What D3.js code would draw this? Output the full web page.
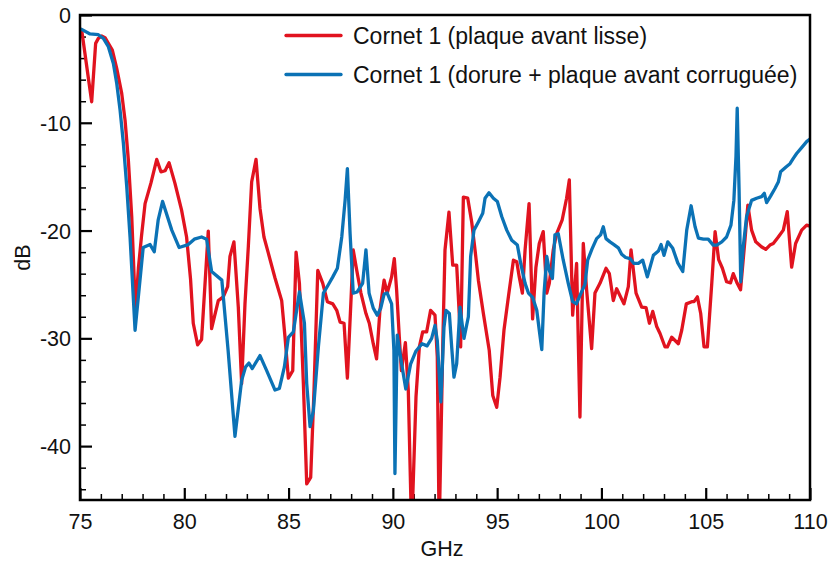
<!DOCTYPE html>
<html>
<head>
<meta charset="utf-8">
<script src="https://cdn.jsdelivr.net/npm/d3@7"></script>
<style>
  body { margin: 0; background: #fff; }
  svg { display: block; }
  text { font-family: "Liberation Sans", Arial, Helvetica, sans-serif; fill: #111; }
</style>
</head>
<body>
<svg id="chart" width="833" height="562"></svg>
<script>
// ---- Data ----
const seriesNames = ["Cornet 1 (plaque avant lisse)", "Cornet 1 (dorure + plaque avant corruguée)"];
const seriesColors = ["#e1131f", "#0b72b5"];

const redFreq = [75.0,75.08,75.56,75.75,75.88,76.04,76.2,76.36,76.55,76.76,77.0,77.16,77.32,77.48,77.66,77.8,77.95,78.12,78.4,78.68,78.88,79.08,79.27,79.55,79.87,80.11,80.3,80.43,80.64,80.83,81.15,81.31,81.63,81.87,82.08,82.19,82.38,82.59,82.75,82.91,83.07,83.23,83.44,83.63,83.82,84.03,84.35,84.67,84.83,84.99,85.2,85.36,85.52,85.71,85.87,86.06,86.22,86.4,86.64,86.86,87.12,87.31,87.47,87.66,87.82,88.0,88.1,88.27,88.47,88.71,88.87,89.06,89.22,89.38,89.58,89.73,89.94,90.07,90.18,90.31,90.41,90.6,90.74,90.9,91.11,91.27,91.43,91.62,91.81,92.02,92.13,92.22,92.4,92.5,92.69,92.87,93.06,93.19,93.25,93.38,93.59,93.78,93.94,94.1,94.34,94.62,94.79,94.98,95.14,95.33,95.54,95.78,95.94,96.06,96.21,96.34,96.53,96.7,96.86,97.02,97.21,97.38,97.5,97.69,97.85,98.12,98.33,98.46,98.62,98.81,98.97,99.13,99.29,99.53,99.69,99.93,100.22,100.38,100.57,100.73,101.08,101.29,101.42,101.66,101.93,102.14,102.3,102.46,102.65,102.81,103.05,103.16,103.37,103.69,103.85,104.07,104.33,104.44,104.6,104.76,104.92,105.08,105.29,105.45,105.62,105.8,106.0,106.19,106.32,106.51,106.67,106.88,107.02,107.2,107.4,107.67,107.88,108.08,108.24,108.48,108.72,108.91,109.12,109.31,109.6,109.84,110.0];
const redDb = [-1.3,-1.4,-8.05,-2.63,-2.17,-1.95,-2.1,-2.63,-3.25,-4.95,-7.27,-9.75,-13.5,-18.7,-27.5,-23.5,-20.5,-17.5,-15.6,-13.4,-14.55,-14.45,-13.7,-15.6,-18.1,-20.6,-24.5,-28.6,-30.6,-30.1,-20.05,-29.1,-26.5,-26.15,-25.2,-22.4,-21.05,-27.1,-34.2,-26.8,-21.5,-15.5,-13.4,-17.95,-20.6,-22.1,-24.4,-26.5,-29.9,-33.7,-33.0,-22.0,-24.9,-34.2,-43.5,-42.9,-34.8,-23.7,-24.9,-26.6,-26.8,-27.4,-28.5,-28.6,-33.7,-26.15,-21.8,-23.7,-25.8,-27.7,-28.6,-30.5,-31.9,-27.4,-24.6,-25.8,-24.3,-22.6,-25.5,-29.9,-33.0,-30.4,-34.8,-48.0,-35.4,-30.8,-29.4,-29.4,-27.4,-27.85,-31.7,-48.0,-30.0,-21.8,-18.3,-23.2,-23.2,-28.0,-30.8,-16.9,-17.0,-19.2,-21.8,-24.6,-27.7,-31.1,-35.3,-36.4,-33.6,-29.2,-26.15,-22.75,-22.9,-24.3,-25.8,-21.8,-17.5,-28.2,-23.4,-21.2,-20.1,-25.8,-24.9,-21.8,-20.3,-19.0,-17.0,-15.3,-27.85,-23.05,-37.3,-21.2,-25.5,-30.95,-25.8,-24.9,-23.5,-24.0,-26.5,-25.4,-26.8,-25.2,-21.8,-25.8,-27.1,-27.15,-28.6,-27.5,-28.9,-29.55,-30.8,-30.8,-29.9,-30.5,-29.25,-26.8,-26.6,-26.6,-26.15,-27.7,-30.8,-30.8,-24.9,-20.1,-22.7,-23.5,-24.75,-24.85,-24.0,-24.9,-25.5,-20.9,-17.65,-19.96,-21.05,-21.5,-21.75,-21.35,-21.2,-20.6,-19.96,-18.25,-23.4,-21.2,-19.96,-19.5,-19.6];

const blueFreq = [75.0,75.08,75.48,75.88,76.12,76.36,76.6,76.76,76.92,77.08,77.24,77.4,77.64,78.03,78.36,78.56,78.75,78.96,79.4,79.75,80.19,80.48,80.83,81.07,81.31,81.8,82.1,82.43,82.75,82.94,83.1,83.26,83.63,83.95,84.35,84.56,84.8,84.99,85.23,85.52,85.76,85.87,86.03,86.19,86.43,86.67,86.9,87.12,87.34,87.55,87.71,87.82,87.95,88.1,88.29,88.55,88.71,88.86,89.06,89.25,89.42,89.58,89.73,89.94,90.05,90.1,90.21,90.42,90.62,90.85,91.1,91.4,91.64,91.86,92.02,92.13,92.3,92.45,92.55,92.71,92.82,92.93,93.06,93.22,93.41,93.62,93.73,93.89,94.1,94.31,94.42,94.61,94.82,95.01,95.22,95.46,95.7,95.97,96.13,96.34,96.5,96.7,96.9,97.02,97.14,97.25,97.38,97.5,97.65,97.77,97.93,98.17,98.41,98.62,98.8,99.0,99.21,99.34,99.55,99.77,99.96,100.09,100.22,100.41,100.6,100.81,100.97,101.16,101.37,101.56,101.77,101.98,102.2,102.49,102.73,102.86,103.0,103.18,103.42,103.66,103.9,104.09,104.3,104.49,104.65,104.89,105.12,105.36,105.53,105.77,106.0,106.21,106.35,106.45,106.51,106.6,106.68,106.8,106.96,107.2,107.44,107.68,107.81,107.92,108.11,108.32,108.48,108.59,108.85,109.04,109.2,109.36,109.6,109.84,110.0];
const blueDb = [-1.3,-1.33,-1.76,-1.83,-2.17,-2.94,-4.5,-6.34,-8.8,-11.9,-15.9,-20.6,-29.25,-21.57,-21.3,-21.97,-19.0,-17.3,-19.96,-21.57,-21.3,-20.8,-20.6,-20.8,-23.8,-24.6,-31.1,-39.1,-33.9,-32.65,-32.3,-32.8,-31.6,-33.0,-34.8,-34.65,-32.65,-29.9,-29.4,-25.7,-28.6,-34.2,-38.2,-36.7,-30.8,-25.8,-25.05,-24.3,-23.5,-20.6,-17.2,-14.25,-20.3,-25.8,-25.7,-24.9,-21.8,-25.8,-27.2,-27.85,-27.2,-25.9,-25.8,-26.8,-31.1,-42.55,-29.7,-32.35,-34.7,-32.4,-31.2,-30.5,-30.7,-30.0,-28.8,-30.2,-35.9,-29.0,-27.4,-27.7,-30.8,-33.6,-32.35,-27.1,-30.0,-28.0,-22.4,-19.96,-19.2,-18.4,-17.0,-16.5,-17.0,-17.3,-18.7,-19.96,-20.9,-21.35,-23.05,-24.9,-25.8,-26.2,-27.4,-29.25,-31.05,-25.8,-22.4,-23.7,-24.45,-20.4,-20.3,-22.75,-24.9,-26.6,-26.8,-25.9,-25.0,-22.75,-21.7,-20.75,-20.4,-19.65,-20.75,-21.05,-21.3,-21.6,-22.2,-22.5,-22.6,-23.05,-23.05,-22.75,-24.3,-22.3,-21.9,-21.3,-22.3,-21.05,-21.65,-23.0,-23.8,-19.96,-17.7,-19.65,-20.7,-20.8,-20.8,-21.35,-21.35,-21.05,-20.6,-19.5,-17.2,-13.15,-8.65,-16.25,-24.75,-21.5,-18.7,-17.2,-17.0,-16.85,-16.55,-17.4,-16.8,-16.1,-15.5,-14.55,-14.1,-13.8,-13.3,-12.85,-12.3,-11.75,-11.5];

const xTickValues = [75, 80, 85, 90, 95, 100, 105, 110];
const yTickValues = [0, -10, -20, -30, -40];
const xLabel = "GHz";
const yLabel = "dB";

// ---- Layout ----
const W = 833, H = 562;
const margin = { left: 80, right: 23, top: 15, bottom: 62 };
const iw = W - margin.left - margin.right;
const ih = H - margin.top - margin.bottom;
const FONT = '"Liberation Sans", Arial, Helvetica, sans-serif';

const svg = d3.select("#chart");
const g = svg.append("g").attr("transform", `translate(${margin.left},${margin.top})`);

const x = d3.scaleLinear().domain([75, 110]).range([0, iw]);
const y = d3.scaleLinear().domain([-45, 0]).range([ih, 0]);

svg.append("defs").append("clipPath").attr("id", "plotclip")
  .append("rect").attr("x", 0).attr("y", 0).attr("width", iw).attr("height", ih);

// minor ticks (inside)
const xMinor = d3.range(75, 110.001, 1).filter(v => v % 5 !== 0);
const yMinor = d3.range(-44, 0.001, 2).filter(v => v % 10 !== 0);
const fmt = d => String(d);

const xAxisMajor = d3.axisBottom(x).tickValues(xTickValues).tickSizeInner(-12).tickSizeOuter(0).tickPadding(14).tickFormat(fmt);
const xAxisMinor = d3.axisBottom(x).tickValues(xMinor).tickSizeInner(-6).tickSizeOuter(0).tickFormat("");
const yAxisMajor = d3.axisLeft(y).tickValues(yTickValues).tickSizeInner(-12).tickSizeOuter(0).tickPadding(9).tickFormat(fmt);
const yAxisMinor = d3.axisLeft(y).tickValues(yMinor).tickSizeInner(-6).tickSizeOuter(0).tickFormat("");

function styleAxis(sel, w) {
  sel.select(".domain").remove();
  sel.selectAll(".tick line").attr("stroke", "#000").attr("stroke-width", w);
  sel.selectAll(".tick text").attr("font-size", 21.5).attr("fill", "#111")
     .style("font-family", FONT);
}

g.append("g").attr("transform", `translate(0,${ih})`).call(xAxisMinor).call(s => styleAxis(s, 1.5));
g.append("g").attr("transform", `translate(0,${ih})`).call(xAxisMajor).call(s => styleAxis(s, 2.2));
g.append("g").call(yAxisMinor).call(s => styleAxis(s, 1.5));
const yMaj = g.append("g").call(yAxisMajor).call(s => styleAxis(s, 2.2));
yMaj.selectAll(".tick text").attr("dy", "0.35em");

// lines
const line = d3.line().x(d => x(d[0])).y(d => y(d[1]));
const redData = redFreq.map((f, i) => [f, redDb[i]]);
const blueData = blueFreq.map((f, i) => [f, blueDb[i]]);

const plot = g.append("g").attr("clip-path", "url(#plotclip)");
[redData, blueData].forEach((data, i) => {
  plot.append("path").datum(data)
    .attr("fill", "none")
    .attr("stroke", seriesColors[i])
    .attr("stroke-width", 3.3)
    .attr("stroke-linejoin", "round")
    .attr("stroke-linecap", "round")
    .attr("d", line);
});

// frame
g.append("rect").attr("x", 0).attr("y", 0).attr("width", iw).attr("height", ih)
  .attr("fill", "none").attr("stroke", "#000").attr("stroke-width", 2.5);

// axis titles
svg.append("text").attr("x", margin.left + iw / 2 - 3).attr("y", 556)
  .attr("text-anchor", "middle").attr("font-size", 21.5).text(xLabel);
svg.append("text").attr("transform", `translate(30,${margin.top + ih / 2}) rotate(-90)`)
  .attr("text-anchor", "middle").attr("font-size", 21.5).text(yLabel);

// legend
const legend = svg.append("g");
const legY = [35.5, 74.5];
seriesNames.forEach((name, i) => {
  legend.append("line").attr("x1", 286).attr("x2", 341).attr("y1", legY[i]).attr("y2", legY[i])
    .attr("stroke", seriesColors[i]).attr("stroke-width", 3.3).attr("stroke-linecap", "round");
  legend.append("text").attr("x", 353).attr("y", legY[i] + 8).attr("font-size", 23).text(name);
});
</script>
</body>
</html>
